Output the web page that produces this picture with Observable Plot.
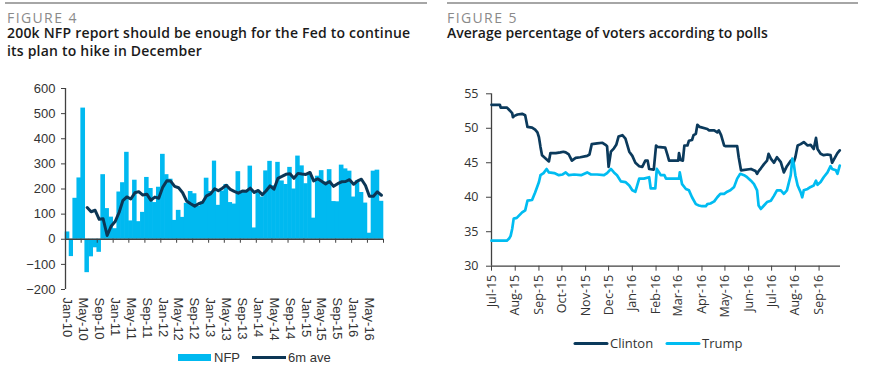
<!DOCTYPE html>
<html><head><meta charset="utf-8">
<script src="https://cdn.jsdelivr.net/npm/d3@7"></script>
<script src="https://cdn.jsdelivr.net/npm/@observablehq/plot@0.6"></script>
<style>
html,body{margin:0;padding:0;background:#fff}
body{width:873px;height:372px;overflow:hidden;position:relative;font-family:'Open Sans',sans-serif}
.rule{position:absolute;top:2px;height:1.5px;background:#a6a6a6}
.fig{position:absolute;top:11.9px;font-size:14px;line-height:12px;color:#8a8a8a;letter-spacing:1.4px;font-family:'Open Sans',sans-serif;white-space:nowrap}
.title{position:absolute;font-weight:600;font-size:14px;line-height:14px;color:#1a1a1a;font-family:'Open Sans',sans-serif;white-space:nowrap}
.chart{position:absolute}
.leg{position:absolute;white-space:nowrap}
</style></head>
<body>
<div class="rule" style="left:5px;width:422px"></div>
<div class="rule" style="left:447px;width:411px"></div>
<div class="fig" style="left:7px">FIGURE 4</div>
<div class="title" style="left:7px;top:25.9px;letter-spacing:0.2px">200k NFP report should be enough for the Fed to continue</div>
<div class="title" style="left:7px;top:44.3px;letter-spacing:0.2px">its plan to hike in December</div>
<div class="fig" style="left:447px">FIGURE 5</div>
<div class="title" style="left:447px;top:25.9px">Average percentage of voters according to polls</div>
<div id="left" class="chart" style="left:0;top:80px"></div>
<div id="right" class="chart" style="left:440px;top:80px"></div>
<div id="legL" class="leg" style="left:0;top:346px;width:430px;height:20px"></div>
<div id="legR" class="leg" style="left:440px;top:333px;width:433px;height:20px"></div>
<script>
// ---------------- Figure 4 data ----------------
const nfpStart = "2010-01-01";
const nfpValues = [
  29, -69, 163, 244, 522, -133, -70, -34, -52, 257, 122, 88,
  42, 188, 225, 346, 73, 235, 70, 107, 246, 202, 146, 207,
  338, 257, 239, 75, 115, 87, 143, 190, 181, 132, 149, 243,
  190, 311, 135, 192, 218, 146, 140, 269, 185, 189, 291, 45,
  187, 168, 272, 310, 213, 306, 232, 218, 286, 200, 331, 292,
  221, 265, 84, 251, 273, 228, 277, 150, 149, 295, 280, 271,
  168, 233, 186, 144, 24, 271, 275, 151
];
const nfpYTicks = [-200, -100, 0, 100, 200, 300, 400, 500, 600];
const nfpSeries = ["NFP", "6m ave"];

// ---------------- Figure 5 data ----------------
const clintonPoints = [
  ["2015-07-01",53.4],["2015-07-12",53.4],["2015-07-13",53.0],["2015-07-21",53.0],["2015-07-23",52.8],
  ["2015-07-28",52.2],["2015-07-29",51.6],["2015-07-31",51.8],["2015-08-04",52.0],["2015-08-10",52.1],
  ["2015-08-14",51.9],["2015-08-17",50.2],["2015-08-23",50.1],["2015-08-27",49.8],["2015-08-30",49.4],
  ["2015-09-01",48.7],["2015-09-03",47.3],["2015-09-05",46.1],["2015-09-09",45.7],["2015-09-14",45.2],
  ["2015-09-16",46.4],["2015-09-23",46.4],["2015-09-29",46.5],["2015-10-03",46.6],["2015-10-06",46.5],
  ["2015-10-10",46.2],["2015-10-14",45.3],["2015-10-19",45.7],["2015-10-25",45.8],["2015-11-03",46.0],
  ["2015-11-06",46.2],["2015-11-09",47.7],["2015-11-16",47.8],["2015-11-23",47.9],["2015-11-27",47.6],
  ["2015-11-29",47.4],["2015-12-01",44.4],["2015-12-04",46.6],["2015-12-08",47.1],["2015-12-11",47.6],
  ["2015-12-14",48.8],["2015-12-19",49.0],["2015-12-23",48.5],["2015-12-28",46.6],["2016-01-01",46.0],
  ["2016-01-05",45.0],["2016-01-10",44.5],["2016-01-14",44.4],["2016-01-18",45.3],["2016-01-21",45.3],
  ["2016-01-23",44.1],["2016-01-29",44.0],["2016-02-01",47.5],["2016-02-03",47.3],["2016-02-13",47.2],
  ["2016-02-16",46.1],["2016-02-18",45.3],["2016-03-01",45.3],["2016-03-02",46.4],["2016-03-04",45.4],
  ["2016-03-07",45.3],["2016-03-09",47.5],["2016-03-13",47.5],["2016-03-15",48.2],["2016-03-19",48.3],
  ["2016-03-21",49.0],["2016-03-24",49.2],["2016-03-26",50.5],["2016-03-29",50.2],["2016-04-08",49.9],
  ["2016-04-10",49.7],["2016-04-17",49.7],["2016-04-21",49.4],["2016-04-23",49.7],["2016-04-26",49.0],
  ["2016-04-30",47.5],["2016-05-02",47.4],["2016-05-17",47.4],["2016-05-19",45.8],["2016-05-22",43.9],
  ["2016-06-04",44.1],["2016-06-10",43.8],["2016-06-12",43.4],["2016-06-14",43.8],["2016-06-17",44.2],
  ["2016-06-21",44.8],["2016-06-25",45.3],["2016-06-27",46.3],["2016-06-30",45.6],["2016-07-04",45.0],
  ["2016-07-08",45.8],["2016-07-13",45.1],["2016-07-17",43.6],["2016-07-21",44.5],["2016-07-26",45.3],
  ["2016-07-30",45.1],["2016-08-01",45.8],["2016-08-04",47.5],["2016-08-08",47.7],["2016-08-12",48.0],
  ["2016-08-17",47.5],["2016-08-21",47.6],["2016-08-25",47.0],["2016-08-28",48.6],["2016-08-30",47.0],
  ["2016-09-03",46.3],["2016-09-07",46.1],["2016-09-12",46.2],["2016-09-16",46.1],["2016-09-18",45.0],
  ["2016-09-23",46.0],["2016-09-25",46.4],["2016-09-28",46.8]
];
const trumpPoints = [
  ["2015-07-01",33.7],["2015-07-21",33.7],["2015-07-24",34.0],["2015-07-26",34.4],["2015-07-28",35.4],
  ["2015-07-30",36.9],["2015-08-03",37.0],["2015-08-10",37.8],["2015-08-14",38.1],["2015-08-17",39.5],
  ["2015-08-23",39.6],["2015-08-27",40.7],["2015-09-01",42.2],["2015-09-03",43.2],["2015-09-07",43.5],
  ["2015-09-11",44.1],["2015-09-14",43.6],["2015-09-21",43.5],["2015-09-27",43.2],["2015-10-02",43.3],
  ["2015-10-06",43.6],["2015-10-10",43.2],["2015-10-17",43.3],["2015-10-26",43.2],["2015-11-03",43.6],
  ["2015-11-08",43.3],["2015-11-16",43.3],["2015-11-25",43.2],["2015-11-29",43.5],["2015-12-04",44.1],
  ["2015-12-08",43.6],["2015-12-12",43.2],["2015-12-17",42.3],["2015-12-23",42.2],["2015-12-28",41.7],
  ["2016-01-01",41.0],["2016-01-05",40.8],["2016-01-10",42.7],["2016-01-16",42.7],["2016-01-23",42.9],
  ["2016-01-25",41.3],["2016-01-31",41.3],["2016-02-02",44.1],["2016-02-05",43.6],["2016-02-07",43.2],
  ["2016-02-12",43.2],["2016-02-14",42.7],["2016-03-02",42.7],["2016-03-03",43.6],["2016-03-06",41.9],
  ["2016-03-11",41.2],["2016-03-15",41.0],["2016-03-19",40.0],["2016-03-24",39.0],["2016-03-28",38.8],
  ["2016-04-01",38.7],["2016-04-06",38.7],["2016-04-08",39.0],["2016-04-12",39.1],["2016-04-17",39.4],
  ["2016-04-21",40.0],["2016-04-25",40.5],["2016-04-30",40.5],["2016-05-04",40.8],["2016-05-08",41.0],
  ["2016-05-13",41.5],["2016-05-17",42.7],["2016-05-21",43.4],["2016-05-26",43.2],["2016-05-30",42.9],
  ["2016-06-04",42.4],["2016-06-08",41.9],["2016-06-12",41.0],["2016-06-14",38.8],["2016-06-17",38.3],
  ["2016-06-21",38.8],["2016-06-25",39.3],["2016-06-30",39.5],["2016-07-04",40.2],["2016-07-08",41.0],
  ["2016-07-13",41.0],["2016-07-17",40.5],["2016-07-21",41.0],["2016-07-26",43.2],["2016-07-28",45.6],
  ["2016-07-30",44.8],["2016-08-01",43.2],["2016-08-04",41.7],["2016-08-08",40.7],["2016-08-10",40.0],
  ["2016-08-12",41.0],["2016-08-17",41.2],["2016-08-21",41.5],["2016-08-25",41.7],["2016-08-28",42.4],
  ["2016-08-30",41.8],["2016-09-03",42.2],["2016-09-07",42.9],["2016-09-12",43.6],["2016-09-16",44.5],
  ["2016-09-18",44.1],["2016-09-23",43.9],["2016-09-25",43.4],["2016-09-28",44.6]
];
const pollYTicks = [30, 35, 40, 45, 50, 55];
const pollStart = "2015-07-01", pollEnd = "2016-09-29";
const pollSeries = ["Clinton", "Trump"];

// ---------------- styles ----------------
const barColor = "#00b9f0", avgColor = "#0c3655";
const clintonColor = "#0b3a5c", trumpColor = "#00bcf1";
const axisColor = "#404040", textColor = "#333";
const monFmt = d3.utcFormat("%b-%y");

// ---------------- Figure 4 ----------------
const start = new Date(nfpStart);
const nfpEnd = d3.utcMonth.offset(start, nfpValues.length);
const months = d3.utcMonth.range(start, nfpEnd);
const nfp = nfpValues.map((v, i) => ({date: months[i], value: v}));
const nfpLabelTicks = d3.utcMonth.every(4).range(start, nfpEnd);
const nfpTickMarks = nfpLabelTicks.concat([nfpEnd]);

const left = Plot.plot({
  width: 430, height: 265,
  marginTop: 8, marginBottom: 56, marginLeft: 65, marginRight: 47,
  x: {type: "utc", domain: [start, nfpEnd], axis: null},
  y: {domain: [-200, 600], axis: null},
  style: {fontFamily: "'Liberation Sans', Arial, sans-serif", fontSize: "13px", color: textColor, background: "transparent", overflow: "visible"},
  marks: [
    Plot.rectY(nfp, {x: "date", y: "value", interval: "month", fill: barColor, insetLeft: -0.3, insetRight: -0.3}),
    Plot.ruleY([0], {stroke: axisColor, strokeWidth: 1.3}),
    Plot.ruleX([start], {stroke: axisColor, strokeWidth: 1.3}),
    Plot.ruleX(nfpTickMarks, {y1: 0, y2: 0, insetBottom: -4, stroke: axisColor}),
    Plot.lineY(nfp, Plot.windowY({k: 6, anchor: "end", strict: true},
      {x: d => d3.utcDay.offset(d.date, 15), y: "value", stroke: avgColor, strokeWidth: 3, strokeLinejoin: "round"})),
    Plot.axisY({ticks: nfpYTicks, label: null, tickSize: 4, tickPadding: 6, stroke: axisColor, fill: textColor}),
    Plot.text(nfpLabelTicks, {x: d => d3.utcDay.offset(d, 15), text: d => monFmt(d), rotate: 90,
      frameAnchor: "bottom", textAnchor: "start", lineAnchor: "middle", dy: 8, fill: textColor})
  ]
});
document.getElementById("left").append(left);

// ---------------- Figure 5 ----------------
const pStart = new Date(pollStart), pEnd = new Date(pollEnd);
const pollTicks = d3.utcMonth.range(pStart, pEnd);
const clinton = clintonPoints.map(([d, v]) => ({date: new Date(d), value: v}));
const trump = trumpPoints.map(([d, v]) => ({date: new Date(d), value: v}));

const right = Plot.plot({
  width: 433, height: 255,
  marginTop: 13.3, marginBottom: 69.3, marginLeft: 51, marginRight: 33,
  x: {type: "utc", domain: [pStart, pEnd], axis: null},
  y: {domain: [30, 55], axis: null},
  style: {fontFamily: "'Open Sans', sans-serif", fontSize: "12.5px", color: textColor, background: "transparent", overflow: "visible"},
  marks: [
    Plot.ruleY([30], {stroke: axisColor, strokeWidth: 1.3}),
    Plot.ruleX([pStart], {stroke: axisColor, strokeWidth: 1.3}),
    Plot.ruleX(pollTicks, {y1: 30, y2: 30, insetBottom: -5, stroke: axisColor}),
    Plot.axisY({ticks: pollYTicks, label: null, tickSize: 5, tickPadding: 8, stroke: axisColor, fill: textColor}),
    Plot.text(pollTicks, {x: d => d, text: d => monFmt(d), rotate: -90,
      frameAnchor: "bottom", textAnchor: "end", lineAnchor: "middle", dy: 8.6, fill: textColor}),
    Plot.line(clinton, {x: "date", y: "value", stroke: clintonColor, strokeWidth: 2.7, strokeLinejoin: "round"}),
    Plot.line(trump, {x: "date", y: "value", stroke: trumpColor, strokeWidth: 2.7, strokeLinejoin: "round"})
  ]
});
document.getElementById("right").append(right);

// ---------------- Legends ----------------
document.getElementById("legL").innerHTML = `
<svg width="430" height="20" style="font-family:'Liberation Sans',Arial,sans-serif;font-size:13px;fill:${textColor}">
  <rect x="178" y="8" width="33" height="7" fill="${barColor}"></rect>
  <text x="214" y="15.7">${nfpSeries[0]}</text>
  <line x1="252" x2="286" y1="11.5" y2="11.5" stroke="${avgColor}" stroke-width="3"></line>
  <text x="288" y="15.7">${nfpSeries[1]}</text>
</svg>`;
document.getElementById("legR").innerHTML = `
<svg width="433" height="20" style="font-family:'Open Sans',sans-serif;font-size:13px;fill:${textColor}">
  <line x1="135" x2="167" y1="10.5" y2="10.5" stroke="${clintonColor}" stroke-width="3" stroke-linecap="round"></line>
  <text x="170" y="15">${pollSeries[0]}</text>
  <line x1="227" x2="259" y1="10.5" y2="10.5" stroke="${trumpColor}" stroke-width="3" stroke-linecap="round"></line>
  <text x="262" y="15">${pollSeries[1]}</text>
</svg>`;
</script>
</body></html>
